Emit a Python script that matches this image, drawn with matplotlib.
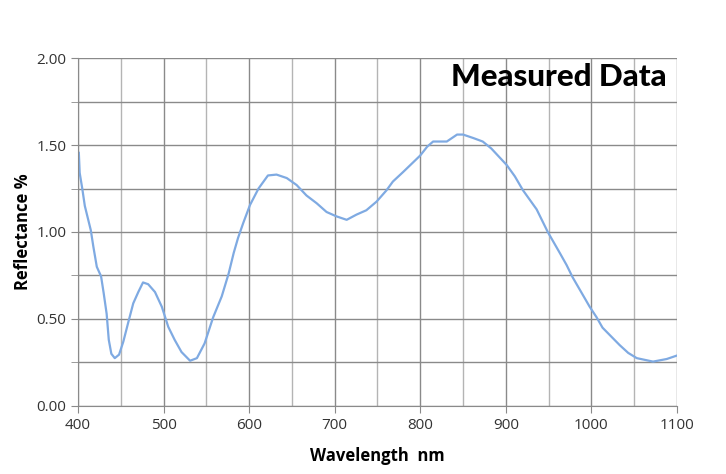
import numpy as np
import matplotlib
matplotlib.use("Agg")
import matplotlib.pyplot as plt
from matplotlib.ticker import MultipleLocator

# values
wavelength = [401, 402, 405, 408, 412, 415, 418, 422, 427, 430, 433.5, 436, 439,
              443, 448, 453, 459, 464.6, 470.5, 476, 482, 490, 498, 505.5, 513,
              521, 531, 539, 548, 558, 568, 576, 582, 587, 593, 601, 611, 622,
              632, 644, 655.5, 667, 679, 690.5, 702, 714, 725.5, 737, 749, 760.6,
              768, 780, 793.7, 800, 808, 815, 823, 831, 843, 850, 862, 873, 883,
              901, 910.5, 920, 928, 936, 949, 963, 971, 978, 988, 998, 1006, 1013,
              1023, 1033, 1043, 1053, 1072, 1088, 1100]
reflectance = [1.455, 1.34, 1.25, 1.15, 1.07, 1.01, 0.915, 0.80, 0.745, 0.65,
               0.53, 0.38, 0.30, 0.275, 0.295, 0.37, 0.485, 0.59, 0.655, 0.71,
               0.70, 0.655, 0.57, 0.455, 0.38, 0.31, 0.26, 0.275, 0.36, 0.51,
               0.63, 0.76, 0.88, 0.965, 1.05, 1.155, 1.25, 1.325, 1.33, 1.31,
               1.27, 1.21, 1.165, 1.115, 1.09, 1.07, 1.10, 1.125, 1.175, 1.24,
               1.29, 1.345, 1.41, 1.44, 1.49, 1.52, 1.52, 1.52, 1.56, 1.56, 1.54,
               1.52, 1.48, 1.385, 1.32, 1.24, 1.185, 1.13, 1.00, 0.88, 0.81, 0.74,
               0.655, 0.57, 0.51, 0.45, 0.40, 0.35, 0.305, 0.275, 0.255, 0.27, 0.29]

plt.rcParams['font.family'] = ['Open Sans', 'DejaVu Sans']

fig = plt.figure(figsize=(7.26, 4.74), dpi=100)
ax = fig.add_axes([0.1074, 0.1435, 0.8251, 0.7341])

ax.plot(wavelength, reflectance, color='#7faae2', linewidth=1.6)

ax.set_xlim(400, 1100)
ax.set_ylim(0, 2.0)
ax.xaxis.set_major_locator(MultipleLocator(100))
ax.xaxis.set_minor_locator(MultipleLocator(50))
ax.yaxis.set_major_locator(MultipleLocator(0.5))
ax.yaxis.set_minor_locator(MultipleLocator(0.25))
ax.yaxis.set_major_formatter(plt.FuncFormatter(lambda v, p: f"{v:.2f}"))

ax.grid(which='major', color='#8a8a8a', linewidth=1.0)
ax.grid(which='minor', axis='x', color='#b4b4b4', linewidth=1.0)
ax.grid(which='minor', axis='y', color='#8a8a8a', linewidth=1.0)
ax.set_axisbelow(True)

for side in ['top', 'right']:
    ax.spines[side].set_visible(False)
for side in ['left', 'bottom']:
    ax.spines[side].set_color('#8a8a8a')

ax.tick_params(which='both', colors='#8a8a8a', length=5, labelcolor='#333333',
               labelsize=11)
ax.tick_params(axis='x', which='minor', length=0)

ax.set_xlabel('Wavelength  nm', fontsize=12, fontweight='bold', labelpad=10)
ax.set_ylabel('Reflectance %', fontsize=12, fontweight='bold', labelpad=3)

ax.text(0.983, 0.945, 'Measured Data', transform=ax.transAxes, ha='right', va='center',
        fontsize=22.5, fontweight='black', family=['Lato', 'Open Sans'], color='black')

fig.savefig('out.png', dpi=100)
